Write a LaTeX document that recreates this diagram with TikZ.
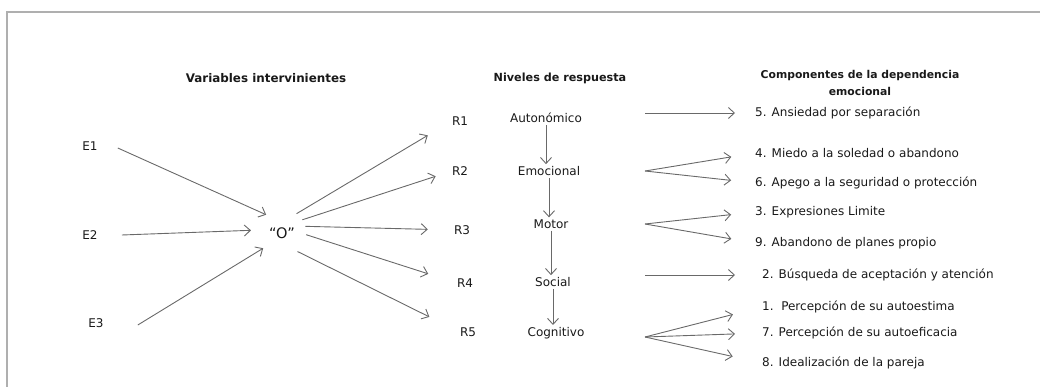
\documentclass[tikz,border=0pt]{standalone}
\usepackage{fontspec}
\setmainfont{DejaVu Sans}
\usetikzlibrary{arrows.meta,calc}
\definecolor{linegray}{RGB}{105,105,105}
\definecolor{framegray}{RGB}{175,175,175}
\definecolor{textgray}{RGB}{25,25,25}
\tikzset{lbl/.style={inner sep=2pt,text=textgray,font=\fontsize{12}{13}\selectfont},
  head/.style={inner sep=2pt,text=textgray,font=\fontsize{11.2}{16.5}\selectfont\bfseries},
  comp/.style={lbl,anchor=west,inner sep=0pt},
  arr/.style={draw=linegray,line width=0.9pt,-{Straight Barb[length=6pt,width=11pt]}}}

\begin{document}
\begin{tikzpicture}[x=1pt,y=-1pt]
          \useasboundingbox (0,0) rectangle (1040,387);
          \draw[framegray,line width=2pt] (7,387) -- (7,12) -- (1040,12);

          \node[head,font=\fontsize{11.9}{16.5}\selectfont\bfseries] (hvar) at (266,78) {Variables intervinientes};
          \node[head] (hniv) at (560,78) {Niveles de respuesta};
          \node[head,align=center,font=\fontsize{10.8}{16.5}\selectfont\bfseries] (hcomp) at (860,83) {Componentes de la dependencia\\emocional};

          \node[lbl] (e1) at (90,146) {E1};
          \node[lbl] (e2) at (90,235) {E2};
          \node[lbl] (e3) at (96,323) {E3};

          \node[lbl,circle,minimum size=48pt,inner sep=0pt,font=\fontsize{14.5}{17}\selectfont] (o) at (282,233) {“O”};

          \node[lbl,inner sep=0pt] (r1) at (460,121) {R1};
          \node[lbl,inner sep=0pt] (r2) at (460,171) {R2};
          \node[lbl,inner sep=0pt] (r3) at (462,230) {R3};
          \node[lbl,inner sep=0pt] (r4) at (465,283) {R4};
          \node[lbl,inner sep=0pt] (r5) at (468,332) {R5};

          \node[lbl] (auto) at (546,118) {Autonómico};
          \node[lbl] (emoc) at (549,171) {Emocional};
          \node[lbl] (mot) at (551,224) {Motor};
          \node[lbl] (soc) at (553,282) {Social};
          \node[lbl] (cog) at (556,333) {Cognitivo};

          \node[comp] (c5) at (755,113) {5. Ansiedad por separación};
          \node[comp] (c4) at (755,153) {4. Miedo a la soledad o abandono};
          \node[comp] (c6) at (755,183) {6. Apego a la seguridad o protección};
          \node[comp] (c3) at (755,212) {3. Expresiones Limite};
          \node[comp] (c9) at (755,243) {9. Abandono de planes propio};
          \node[comp] (c2) at (762,275) {2. Búsqueda de aceptación y atención};
          \node[comp] (c1) at (762,307) {1.\ \ Percepción de su autoestima};
          \node[comp] (c7) at (762,333) {7. Percepción de su autoeficacia};
          \node[comp] (c8) at (762,363) {8. Idealización de la pareja};

          \draw[arr] ([xshift=18pt,yshift=-2pt]e1.east) -- (o.131);
          \draw[arr,shorten >=7pt] ([xshift=22pt]e2.east) -- (o.173);
          \draw[arr] ([xshift=32pt,yshift=-2pt]e3.east) -- (o.219);

          \foreach \a/\r/\s in {53/r1/28,33/r2/17,16/r3/26,-4/r4/30,-50/r5/34}
            \draw[arr,shorten >=\s pt] (o.\a) -- (\r.west);

          \draw[arr] (auto.south) -- (auto.south |- emoc.north);
          \draw[arr] (emoc.south) -- (emoc.south |- mot.north);
          \draw[arr] (mot.south) -- (mot.south |- soc.north);
          \draw[arr] (soc.south) -- (soc.south |- cog.north);

          \coordinate (split) at (645,0);
          \draw[arr,shorten >=20pt] (c5 -| split) -- (c5.west);
          \draw[arr,shorten >=24pt] (emoc -| split) -- (c4.west);
          \draw[arr,shorten >=24pt] (emoc -| split) -- (c6.west);
          \draw[arr,shorten >=24pt] (mot -| split) -- (c3.west);
          \draw[arr,shorten >=24pt] (mot -| split) -- (c9.west);
          \draw[arr,shorten >=27pt] (c2 -| split) -- (c2.west);
          \draw[arr,shorten >=30pt] ([yshift=-4pt]cog -| split) -- (c1.west);
          \draw[arr,shorten >=27pt] ([yshift=-4pt]cog -| split) -- (c7.west);
          \draw[arr,shorten >=30pt] ([yshift=-4pt]cog -| split) -- (c8.west);
        \end{tikzpicture}
\end{document}
